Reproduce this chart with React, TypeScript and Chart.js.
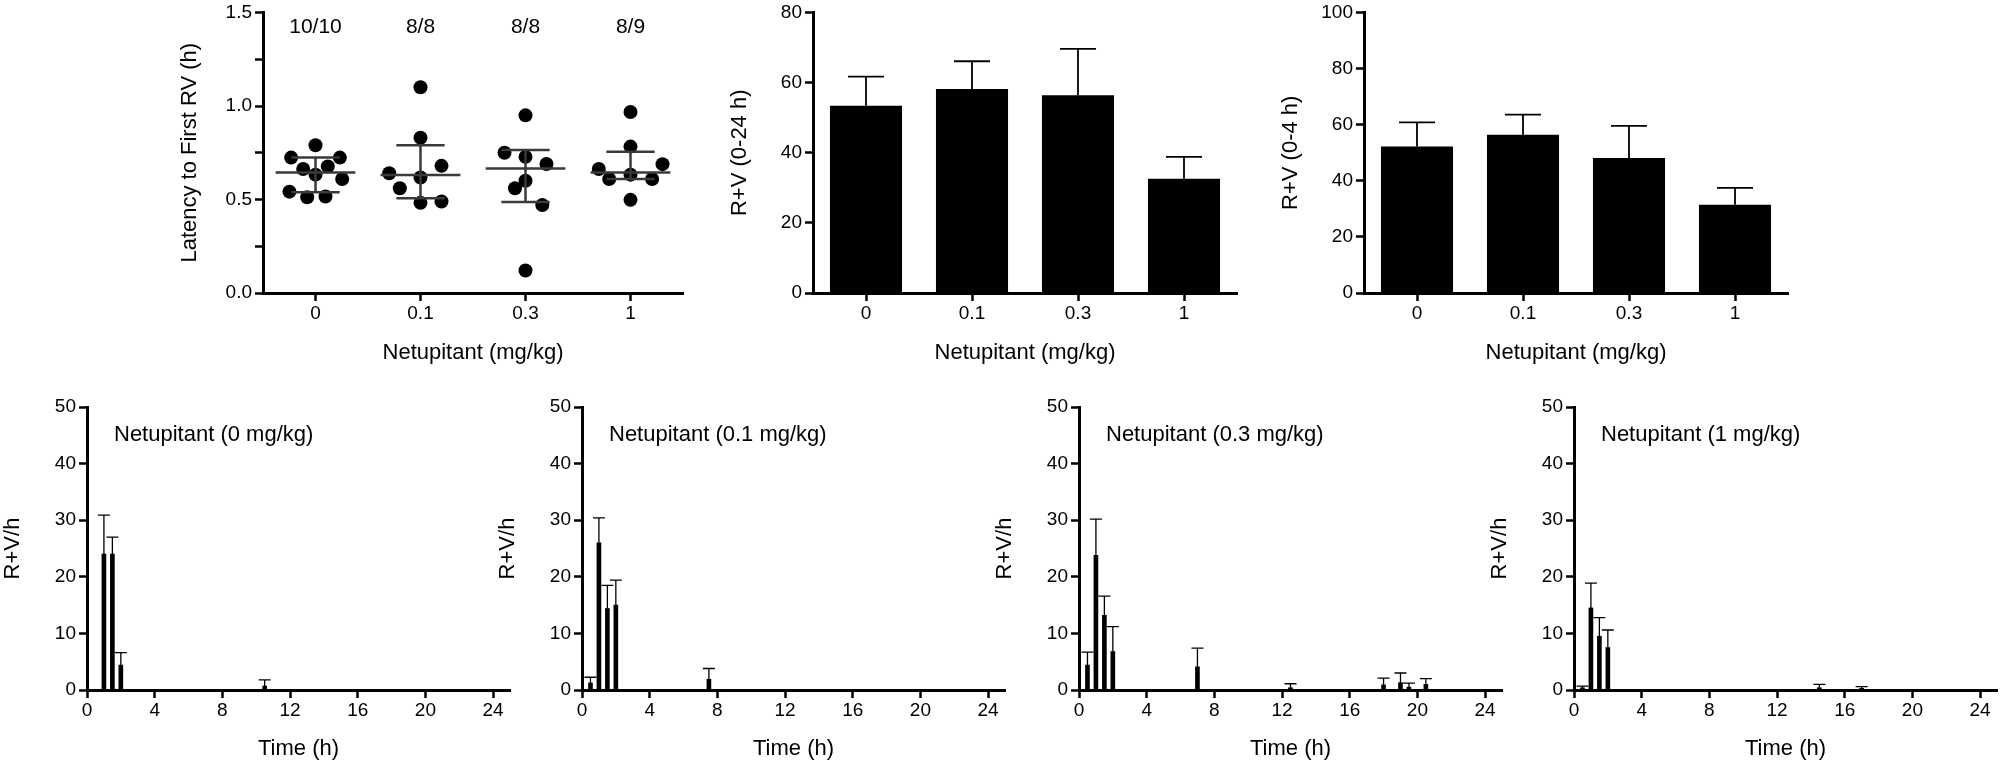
import React, { useEffect, useRef } from 'react';
import { Chart, registerables } from 'chart.js';

Chart.register(...registerables);

const FONT = "'Liberation Sans', Arial, Helvetica, sans-serif";

// ---------- data ----------
const doseLabels = ['0', '0.1', '0.3', '1'];
const sampleCounts = ['10/10', '8/8', '8/8', '8/9'];

// Latency to first RV (h): individual animals, with horizontal jitter (fraction of group spacing)
const latencyDose0 = [0.79, 0.724, 0.724, 0.663, 0.677, 0.633, 0.61, 0.542, 0.512, 0.516];
const jitterDose0 = [0, -0.232, 0.232, -0.117, 0.117, 0, 0.254, -0.248, -0.079, 0.095];
const latencyDose01 = [1.1, 0.83, 0.68, 0.64, 0.618, 0.56, 0.482, 0.489];
const jitterDose01 = [0, 0, 0.2, -0.298, 0, -0.197, 0, 0.2];
const latencyDose03 = [0.95, 0.75, 0.728, 0.69, 0.6, 0.56, 0.47, 0.12];
const jitterDose03 = [0, -0.2, 0, 0.2, 0, -0.1, 0.16, 0];
const latencyDose1 = [0.968, 0.783, 0.663, 0.689, 0.61, 0.633, 0.61, 0.498];
const jitterDose1 = [0, 0, -0.302, 0.305, -0.203, 0, 0.206, 0];
const latencyMedian = [0.645, 0.631, 0.666, 0.645];
const latencyQ1 = [0.539, 0.507, 0.486, 0.61];
const latencyQ3 = [0.724, 0.79, 0.765, 0.756];

// R+V totals
const rv24Mean = [53.4, 58.2, 56.4, 32.6];
const rv24Sem = [8.3, 7.9, 13.2, 6.2];
const rv4Mean = [52.2, 56.4, 48.1, 31.5];
const rv4Sem = [8.6, 7.2, 11.5, 6.0];

// Time course (R+V/h)
const timeTicks = [0, 4, 8, 12, 16, 20, 24];
const courseTitles = [
  'Netupitant (0 mg/kg)',
  'Netupitant (0.1 mg/kg)',
  'Netupitant (0.3 mg/kg)',
  'Netupitant (1 mg/kg)',
];
const times0 = [1, 1.5, 2, 10.5];
const means0 = [24, 24, 4.4, 0.7];
const sems0 = [6.9, 3.0, 2.2, 1.1];
const times01 = [0.5, 1, 1.5, 2, 7.5];
const means01 = [1.25, 26, 14.4, 15, 1.9];
const sems01 = [1.0, 4.4, 4.1, 4.4, 1.9];
const times03 = [0.5, 1, 1.5, 2, 7, 12.5, 18, 19, 19.5, 20.5];
const means03 = [4.4, 23.8, 13.2, 6.8, 4.1, 0.4, 0.9, 1.3, 0.5, 1.0];
const sems03 = [2.3, 6.4, 3.4, 4.4, 3.3, 0.7, 1.2, 1.7, 0.7, 1.0];
const times1 = [0.5, 1, 1.5, 2, 14.5, 17];
const means1 = [0.4, 14.5, 9.5, 7.5, 0.4, 0.3];
const sems1 = [0.3, 4.4, 3.3, 3.1, 0.6, 0.3];

// ---------- plugins ----------
const errorBarPlugin = {
  id: 'errorBars',
  afterDatasetsDraw(chart: any, _args: any, opts: any) {
    if (!opts || !opts.errors) return;
    const meta = chart.getDatasetMeta(0);
    const yScale = chart.scales.y;
    const ctx = chart.ctx;
    ctx.save();
    ctx.strokeStyle = '#000';
    ctx.lineWidth = opts.lineWidth || 1.5;
    meta.data.forEach((el: any, i: number) => {
      const raw = chart.data.datasets[0].data[i];
      const v = typeof raw === 'number' ? raw : raw.y;
      const err = opts.errors[i];
      const x = el.x;
      const y0 = el.y;
      const y1 = yScale.getPixelForValue(v + err);
      const half = opts.capHalf != null ? opts.capHalf : el.width / 4;
      ctx.beginPath();
      ctx.moveTo(x, y0);
      ctx.lineTo(x, y1);
      ctx.moveTo(x - half, y1);
      ctx.lineTo(x + half, y1);
      ctx.stroke();
    });
    ctx.restore();
  },
};

const summaryPlugin = {
  id: 'summaryLines',
  afterDatasetsDraw(chart: any, _args: any, opts: any) {
    if (!opts || !opts.medians) return;
    const { x, y } = chart.scales;
    const ctx = chart.ctx;
    ctx.save();
    ctx.strokeStyle = '#3a3a3a';
    ctx.lineWidth = 2.5;
    opts.medians.forEach((m: number, i: number) => {
      const cx = x.getPixelForValue(i);
      const ym = y.getPixelForValue(m);
      const y1 = y.getPixelForValue(opts.q1[i]);
      const y3 = y.getPixelForValue(opts.q3[i]);
      const mw = x.getPixelForValue(i + 0.38) - cx;
      const cw = x.getPixelForValue(i + 0.23) - cx;
      ctx.beginPath();
      ctx.moveTo(cx - mw, ym);
      ctx.lineTo(cx + mw, ym);
      ctx.moveTo(cx - cw, y1);
      ctx.lineTo(cx + cw, y1);
      ctx.moveTo(cx - cw, y3);
      ctx.lineTo(cx + cw, y3);
      ctx.moveTo(cx, y1);
      ctx.lineTo(cx, y3);
      ctx.stroke();
    });
    ctx.restore();
  },
};

const textPlugin = {
  id: 'panelText',
  afterDraw(chart: any, _args: any, opts: any) {
    if (!opts) return;
    const ctx = chart.ctx;
    const area = chart.chartArea;
    ctx.save();
    ctx.fillStyle = '#000';
    ctx.textBaseline = 'middle';
    if (opts.counts) {
      ctx.font = `21px ${FONT}`;
      ctx.textAlign = 'center';
      opts.counts.forEach((t: string, i: number) => {
        ctx.fillText(t, chart.scales.x.getPixelForValue(i), area.top + 15);
      });
    }
    if (opts.title) {
      ctx.font = `22px ${FONT}`;
      ctx.textAlign = 'left';
      ctx.fillText(opts.title, area.left + 27, area.top + 28);
    }
    ctx.restore();
  },
};

// ---------- axis styling ----------
const baseAxis = (titleText: string, horizontal: boolean, fixedSize: number) => ({
  border: { display: true, color: '#000', width: 3 },
  grid: {
    display: true,
    drawOnChartArea: false,
    drawTicks: true,
    tickLength: 8,
    tickWidth: 2.5,
    tickColor: '#000',
    color: '#000',
    offset: false,
  },
  ticks: {
    color: '#000',
    font: { family: FONT, size: 19, lineHeight: 1 },
    padding: 3,
    maxRotation: 0,
    autoSkip: false,
  },
  title: {
    display: true,
    text: titleText,
    color: '#000',
    font: { family: FONT, size: 22 },
    padding: horizontal ? { top: 4, bottom: 4 } : { top: 0, bottom: 0 },
  },
  afterFit: (s: any) => {
    if (horizontal) s.height = fixedSize;
    else s.width = fixedSize;
  },
});

const commonOptions = (padding: any) => ({
  animation: false,
  responsive: false,
  maintainAspectRatio: false,
  layout: { padding },
  events: [],
});

const latencyPoints = () => {
  const groups = [
    [latencyDose0, jitterDose0],
    [latencyDose01, jitterDose01],
    [latencyDose03, jitterDose03],
    [latencyDose1, jitterDose1],
  ];
  const pts: { x: number; y: number }[] = [];
  groups.forEach(([vals, jit], g) => {
    vals.forEach((v, i) => pts.push({ x: g + jit[i], y: v }));
  });
  return pts;
};

const scatterConfig = () => ({
  type: 'scatter',
  data: {
    datasets: [
      {
        data: latencyPoints(),
        backgroundColor: '#000',
        borderColor: '#000',
        pointRadius: 7,
        pointHoverRadius: 7,
        borderWidth: 0,
      },
    ],
  },
  options: {
    ...commonOptions({ top: 10, right: 30, left: 0, bottom: 0 }),
    plugins: {
      legend: { display: false },
      tooltip: { enabled: false },
      summaryLines: { medians: latencyMedian, q1: latencyQ1, q3: latencyQ3 },
      panelText: { counts: sampleCounts },
    },
    scales: {
      x: {
        ...baseAxis('Netupitant (mg/kg)', true, 77),
        type: 'linear',
        min: -0.5,
        max: 3.5,
        afterBuildTicks: (s: any) => {
          s.ticks = doseLabels.map((_, i) => ({ value: i }));
        },
        ticks: {
          ...baseAxis('', true, 0).ticks,
          callback: (v: number) => doseLabels[Math.round(v)],
        },
      },
      y: {
        ...baseAxis('Latency to First RV (h)', false, 86),
        min: 0,
        max: 1.5,
        ticks: {
          ...baseAxis('', false, 0).ticks,
          stepSize: 0.25,
          callback: (v: number) =>
            Math.abs(v * 2 - Math.round(v * 2)) < 1e-6 ? v.toFixed(1) : '',
        },
      },
    },
  },
});

const totalsConfig = (means: number[], sems: number[], yTitle: string, yMax: number) => () => ({
  type: 'bar',
  data: {
    labels: doseLabels,
    datasets: [
      {
        data: means,
        backgroundColor: '#000',
        borderWidth: 0,
        barPercentage: 0.68,
        categoryPercentage: 1,
      },
    ],
  },
  options: {
    ...commonOptions({ top: 10, right: 30, left: 0, bottom: 0 }),
    plugins: {
      legend: { display: false },
      tooltip: { enabled: false },
      errorBars: { errors: sems, lineWidth: 1.8 },
    },
    scales: {
      x: {
        ...baseAxis('Netupitant (mg/kg)', true, 77),
        type: 'category',
        offset: true,
      },
      y: {
        ...baseAxis(yTitle, false, 86),
        min: 0,
        max: yMax,
        ticks: { ...baseAxis('', false, 0).ticks, stepSize: 20 },
      },
    },
  },
});

const courseConfig = (times: number[], means: number[], sems: number[], title: string) => () => ({
  type: 'bar',
  data: {
    datasets: [
      {
        data: times.map((t, i) => ({ x: t, y: means[i] })),
        backgroundColor: '#000',
        borderWidth: 0,
        barThickness: 4,
        grouped: false,
      },
    ],
  },
  options: {
    ...commonOptions({ top: 27, right: 4, left: 0, bottom: 0 }),
    plugins: {
      legend: { display: false },
      tooltip: { enabled: false },
      errorBars: { errors: sems, lineWidth: 1.3, capHalf: 6 },
      panelText: { title },
    },
    scales: {
      x: {
        ...baseAxis('Time (h)', true, 76),
        type: 'linear',
        min: 0,
        max: 25,
        offset: false,
        afterBuildTicks: (s: any) => {
          s.ticks = timeTicks.map((v) => ({ value: v }));
        },
      },
      y: {
        ...baseAxis('R+V/h', false, 87),
        min: 0,
        max: 50,
        ticks: { ...baseAxis('', false, 0).ticks, stepSize: 10 },
      },
    },
  },
});

function ChartBox(props: { left: number; top: number; width: number; height: number; config: () => any }) {
  const ref = useRef<HTMLCanvasElement>(null);
  useEffect(() => {
    const chart = new Chart(ref.current as HTMLCanvasElement, {
      ...props.config(),
      plugins: [errorBarPlugin, summaryPlugin, textPlugin],
    } as any);
    return () => chart.destroy();
  }, []);
  return (
    <div
      style={{
        position: 'absolute',
        left: props.left,
        top: props.top,
        width: props.width,
        height: props.height,
      }}
    >
      <canvas ref={ref} width={props.width} height={props.height} style={{ width: props.width, height: props.height }} />
    </div>
  );
}

export default function App() {
  const bottomLefts = [0, 495, 992, 1487];
  const courses = [
    courseConfig(times0, means0, sems0, courseTitles[0]),
    courseConfig(times01, means01, sems01, courseTitles[1]),
    courseConfig(times03, means03, sems03, courseTitles[2]),
    courseConfig(times1, means1, sems1, courseTitles[3]),
  ];
  return (
    <div
      style={{
        position: 'absolute',
        left: 0,
        top: 0,
        width: 2001,
        height: 766,
        overflow: 'hidden',
        background: '#fff',
      }}
    >
      <ChartBox left={177} top={0} width={536} height={370} config={scatterConfig} />
      <ChartBox left={727} top={0} width={540} height={370} config={totalsConfig(rv24Mean, rv24Sem, 'R+V (0-24 h)', 80)} />
      <ChartBox left={1278} top={0} width={540} height={370} config={totalsConfig(rv4Mean, rv4Sem, 'R+V (0-4 h)', 100)} />
      {courses.map((cfg, i) => (
        <ChartBox key={i} left={bottomLefts[i]} top={380} width={514} height={386} config={cfg} />
      ))}
    </div>
  );
}
